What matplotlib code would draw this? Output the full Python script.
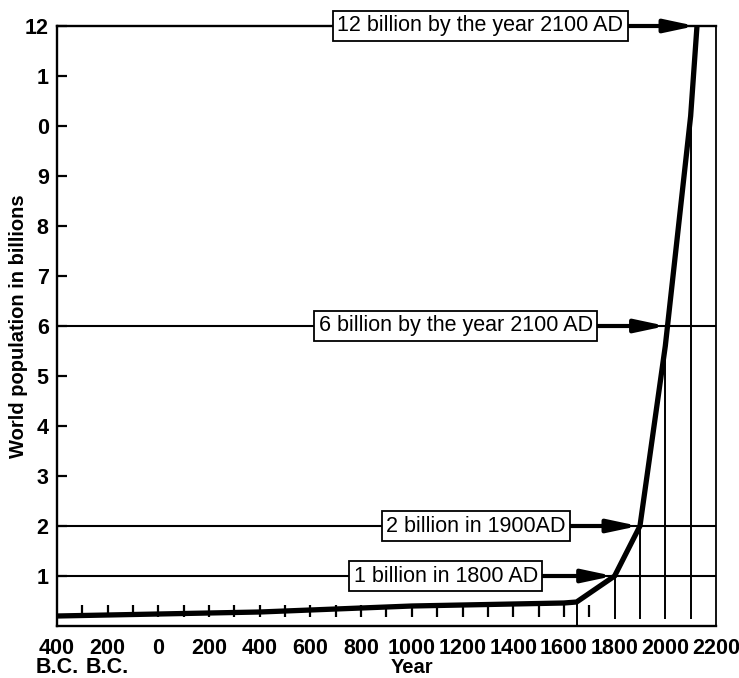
import numpy as np
import matplotlib
matplotlib.use("Agg")
import matplotlib.pyplot as plt

plt.rcParams["font.family"] = ["Liberation Sans", "DejaVu Sans"]

# World population curve (billions)
years = [-400, 0, 400, 800, 1000, 1600, 1650, 1800, 1900, 2000, 2100, 2125]
population = [0.2, 0.24, 0.28, 0.36, 0.4, 0.46, 0.48, 1.0, 2.0, 5.6, 10.2, 12.0]

# milestones marked with a boxed label and an arrow
milestone_values = [12, 6, 2, 1]
milestone_labels = ["12 billion by the year 2100 AD",
                    "6 billion by the year 2100 AD",
                    "2 billion in 1900AD",
                    "1 billion in 1800 AD"]
label_years = [1270, 1173, 1253, 1134]

# axis ticks (the y labels keep the misprints of the original)
xtick_values = list(range(-400, 2201, 200))
xtick_labels = ["400\nB.C.", "200\nB.C.", "0", "200", "400", "600", "800",
                "1000", "1200", "1400", "1600", "1800", "2000", "2200"]
ytick_values = list(range(1, 13))
ytick_labels = ["1", "2", "3", "4", "5", "6", "7", "8", "9", "0", "1", "12"]

ruler_years = list(range(-300, 1701, 100))
drop_years = [1650, 1800, 1900, 2000, 2100]

fig = plt.figure(figsize=(7.39, 6.78), dpi=100)
ax = fig.add_axes([57 / 739, 52 / 678, 659 / 739, 600 / 678])
ax.set_xlim(-400, 2200)
ax.set_ylim(0, 12)

# small ruler ticks along the bottom
ax.vlines(ruler_years, 0.18, 0.42, color="black", lw=1.6, zorder=2)

# drop lines from the curve
drop_tops = np.interp(drop_years, years, population)
drop_bottoms = [0] + [0.15] * (len(drop_years) - 1)
ax.vlines(drop_years, drop_bottoms, drop_tops, color="black", lw=1.4, zorder=2)

# horizontal milestone lines
ax.hlines([v for v in milestone_values if v < 12], -400, 2200,
          color="black", lw=1.5, zorder=2)

# population curve
ax.plot(years, population, color="black", lw=3.8, zorder=4,
        solid_joinstyle="miter", solid_capstyle="butt")

# labels with arrows pointing at the curve
for val, text, lx in zip(milestone_values, milestone_labels, label_years):
    target = np.interp(val, population, years)
    ax.annotate(text, xy=(target, val), xytext=(lx, val),
                ha="center", va="center", fontsize=15.5, zorder=5,
                bbox=dict(boxstyle="square,pad=0.2", fc="white",
                          ec="black", lw=1.3),
                arrowprops=dict(arrowstyle="-|>,head_length=1.5,head_width=0.32",
                                mutation_scale=12, color="black", lw=3,
                                shrinkA=0, shrinkB=1))

ax.set_xticks(xtick_values, xtick_labels, fontsize=15.5, fontweight="bold",
              linespacing=0.85)
ax.set_yticks(ytick_values, ytick_labels, fontsize=15.5, fontweight="bold")
ax.tick_params(axis="x", length=0, pad=9)
ax.tick_params(axis="y", direction="in", length=7, width=1.6, pad=6)

for side in ["left", "bottom", "top"]:
    ax.spines[side].set_linewidth(1.7)
ax.spines["right"].set_linewidth(1.3)

ax.set_xlabel("Year", fontsize=14.5, fontweight="bold")
ax.xaxis.set_label_coords(0.539, -0.054)
ax.set_ylabel("World population in billions", fontsize=14.5, fontweight="bold")
ax.yaxis.set_label_coords(-0.044, 0.5)

fig.savefig("out.png", dpi=100)
